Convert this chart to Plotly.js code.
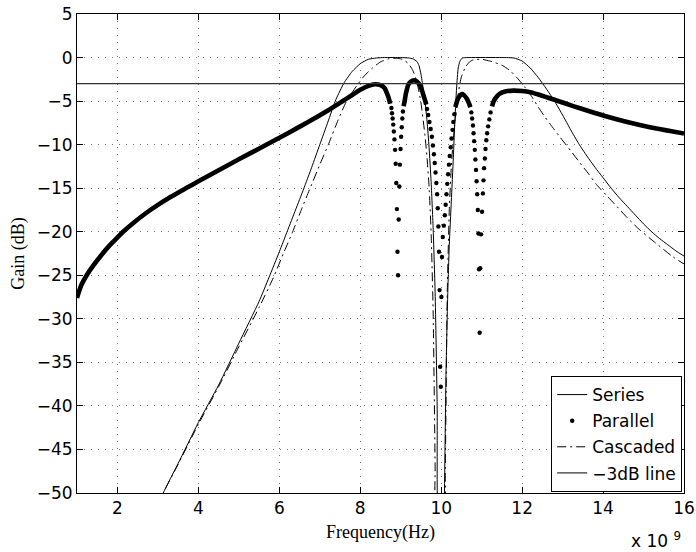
<!DOCTYPE html>
<html>
<head>
<meta charset="utf-8">
<script src="https://cdn.plot.ly/plotly-3.0.1.min.js"></script>
<style>html,body{margin:0;padding:0;background:#fff;}#chart{width:696px;height:552px;}</style>
</head>
<body>
<div id="chart"></div>
<script>
// Frequencies in GHz (axis shows x 10^9 Hz), gains in dB
const seriesFreq = [3.0,3.13,3.5,4.0,4.5,5.0,5.5,5.74,6.0,6.2,6.4,6.6,6.8,7.0,7.2,7.4,7.6,7.8,8.0,8.2,8.4,8.6,9.0,9.2,9.3,9.4,9.45,9.5,9.55,9.6,9.65,9.7,9.75,9.8,9.85,9.9,9.93,
  10.06,10.08,10.12,10.16,10.2,10.25,10.3,10.34,10.38,10.42,10.46,10.5,10.55,10.7,11.5,11.8,12.0,12.2,12.4,12.6,12.8,13.0,13.2,13.4,13.6,13.8,14.0,14.2,14.4,14.6,14.8,15.0,15.2,15.4,15.6,15.8,16.0];
const seriesGain = [-51.5,-50,-46.6,-41.9,-37.6,-32.8,-28.0,-25.3,-22.3,-19.9,-17.5,-15.1,-12.6,-10.0,-7.4,-4.8,-2.9,-1.6,-0.7,-0.2,-0.05,0,0,-0.05,-0.15,-0.45,-0.9,-1.9,-3.4,-5.0,-7.3,-10.3,-14.2,-19.5,-27,-40,-56,
  -58,-50,-36,-27.5,-21.5,-16.5,-11.5,-7,-3.5,-1.2,-0.45,-0.15,-0.03,0,0,-0.05,-0.4,-1.2,-2.3,-3.6,-5.0,-6.6,-8.3,-9.9,-11.3,-12.6,-13.8,-15.0,-16.1,-17.1,-18.1,-19.1,-20.0,-20.8,-21.5,-22.2,-22.8];

const cascadedFreq = [3.0,3.13,3.5,4.0,4.5,5.0,5.5,5.85,6.1,6.33,6.55,6.76,7.0,7.21,7.45,7.66,7.8,7.95,8.1,8.3,8.5,8.7,8.9,9.0,9.1,9.2,9.3,9.4,9.5,9.6,9.65,9.7,9.75,9.8,9.85,9.87,
  10.07,10.1,10.15,10.2,10.25,10.3,10.35,10.4,10.45,10.5,10.6,10.7,10.8,11.0,11.2,11.4,11.53,11.7,11.87,12.05,12.24,12.4,12.56,12.75,12.93,13.2,13.43,13.65,13.84,14.1,14.34,14.6,14.91,15.3,15.73,16.0];
const cascadedGain = [-51.5,-50,-46.7,-42.1,-37.8,-33.2,-28.7,-25.3,-22.5,-20.0,-17.4,-15.0,-12.3,-10.0,-7.2,-5.0,-4.0,-3.0,-2.1,-1.2,-0.5,-0.15,-0.1,-0.15,-0.35,-0.75,-1.5,-2.8,-5.2,-9.0,-11.5,-14.8,-20,-29,-47,-58,
  -58,-48,-27,-17.5,-12.5,-9.3,-7.0,-4.9,-3.3,-2.2,-1.1,-0.5,-0.25,-0.2,-0.4,-0.7,-0.95,-1.5,-2.3,-3.3,-4.5,-5.7,-6.8,-8.0,-9.1,-10.7,-12.1,-13.4,-14.6,-15.9,-17.1,-18.4,-19.8,-21.3,-22.9,-23.7];

// Parallel: densely sampled parts (overlapping dots, drawn as a thick band), null separates the pieces
const parallelBandFreq = [1.0,1.1,1.24,1.4,1.6,1.8,2.0,2.14,2.4,2.7,3.0,3.3,3.71,4.0,4.5,5.0,5.69,6.2,6.7,7.2,7.54,7.8,8.0,8.2,8.36,8.5,8.6,8.65,8.7,8.74,
  8.75,
  9.07,9.10,9.125,9.15,9.19,9.25,9.33,9.40,9.475,9.52,9.56,9.60,9.63,
  9.64,
  10.35,10.40,10.45,10.51,10.56,10.63,10.69,10.72,
  10.73,
  11.255,11.30,11.37,11.45,11.58,11.78,12.0,12.2,12.44,12.85,13.26,13.68,14.09,14.5,14.91,15.32,16.0];
const parallelBandGain = [-27.6,-26.2,-25.0,-23.9,-22.7,-21.6,-20.65,-20.0,-18.96,-17.88,-16.92,-16.05,-14.96,-14.21,-12.93,-11.68,-9.99,-8.72,-7.42,-6.07,-5.08,-4.3,-3.7,-3.25,-3.06,-3.17,-3.5,-4.0,-4.6,-5.3,
  null,
  -5.6,-4.9,-4.2,-3.7,-3.1,-2.75,-2.6,-2.75,-3.2,-3.7,-4.3,-4.9,-5.4,
  null,
  -5.7,-4.9,-4.45,-4.2,-4.3,-4.7,-5.3,-5.7,
  null,
  -5.6,-5.0,-4.5,-4.15,-3.9,-3.8,-3.85,-3.98,-4.3,-4.93,-5.57,-6.19,-6.76,-7.28,-7.74,-8.15,-8.72];

// Parallel: separate dots inside the dips
const parallelDotFreq = [8.77,8.785,8.80,8.815,8.83,8.845,8.86,8.875,8.89,8.905,8.92,8.935,8.95,8.965,8.98,8.995,9.01,9.025,9.04,9.055,
  9.65,9.68,9.71,9.74,9.77,9.795,9.82,9.84,9.86,9.88,9.90,9.915,9.93,9.945,9.96,9.975,
  9.99,10.005,10.02,10.04,10.065,10.09,10.11,10.13,10.15,10.17,10.19,10.21,10.235,10.255,10.28,10.30,10.325,
  10.745,10.765,10.785,10.80,10.815,10.83,10.845,10.86,10.875,10.89,10.905,10.92,10.935,10.95,
  10.965,10.985,11.01,11.03,11.045,11.06,11.08,11.095,11.115,11.135,11.16,11.19,11.22];
const parallelDotGain = [-5.8,-6.4,-7.0,-7.7,-8.5,-9.4,-10.6,-12.2,-14.4,-17.4,-22.3,-25.0,-18.6,-14.8,-12.3,-10.5,-9.1,-8.0,-7.0,-6.2,
  -5.9,-6.6,-7.4,-8.2,-9.1,-10.1,-11.1,-12.1,-13.2,-14.4,-15.7,-17.3,-19.4,-22.3,-26.7,-35.5,
  -37.8,-27.5,-22.9,-20.6,-19.3,-18.1,-16.9,-15.7,-14.5,-13.4,-12.3,-11.3,-10.3,-9.3,-8.3,-7.4,-6.5,
  -6.3,-7.0,-7.8,-8.7,-9.6,-10.6,-11.7,-12.9,-14.2,-15.7,-17.5,-20.2,-24.3,-31.6,
  -24.2,-20.3,-17.7,-15.6,-14.1,-12.7,-11.6,-10.5,-9.5,-8.7,-7.9,-7.1,-6.3];

const thresholdFreq = [1, 16];
const thresholdGain = [-3, -3];

const xTicks = [2, 4, 6, 8, 10, 12, 14, 16];
const yTicks = [-50, -45, -40, -35, -30, -25, -20, -15, -10, -5, 0, 5];

const sansFont = 'DejaVu Sans, Liberation Sans, Arial, sans-serif';
const serifFont = 'Liberation Serif, Times New Roman, serif';

const traces = [
  {x: seriesFreq, y: seriesGain, mode: 'lines', name: 'Series', legendgroup: 'g1',
   line: {color: '#000', width: 1, shape: 'spline', smoothing: 0.5}, hoverinfo: 'skip'},
  {x: parallelBandFreq, y: parallelBandGain, mode: 'lines', showlegend: false, legendgroup: 'g2',
   connectgaps: false, line: {color: '#000', width: 4.6, shape: 'spline', smoothing: 0.8}, hoverinfo: 'skip'},
  {x: parallelDotFreq, y: parallelDotGain, mode: 'markers', name: 'Parallel', legendgroup: 'g2',
   marker: {color: '#000', size: 4.4, line: {width: 0}}, hoverinfo: 'skip'},
  {x: cascadedFreq, y: cascadedGain, mode: 'lines', name: 'Cascaded', legendgroup: 'g3',
   line: {color: '#000', width: 1, dash: '9px,4px,2px,4px', shape: 'spline', smoothing: 0.5}, hoverinfo: 'skip'},
  {x: thresholdFreq, y: thresholdGain, mode: 'lines', name: '\u22123dB line', legendgroup: 'g4',
   line: {color: '#333', width: 1.1}, hoverinfo: 'skip'}
];

const axisCommon = {
  ticks: 'inside', ticklen: 6, tickwidth: 1, tickcolor: '#000',
  showline: true, linecolor: '#000', linewidth: 1, mirror: 'ticks',
  showgrid: true, gridcolor: '#777', gridwidth: 1, griddash: '1px,6px',
  zeroline: false, tickfont: {family: sansFont, size: 17, color: '#000'}
};

const layout = {
  width: 696, height: 552,
  margin: {l: 77, r: 12, t: 14, b: 59, pad: 0},
  paper_bgcolor: '#fff', plot_bgcolor: '#fff',
  font: {family: sansFont, size: 17, color: '#000'},
  showlegend: true,
  xaxis: Object.assign({}, axisCommon, {
    range: [1, 16], tickmode: 'array', tickvals: xTicks,
    title: {text: 'Frequency(Hz)', font: {family: serifFont, size: 18, color: '#000'}, standoff: 7}
  }),
  yaxis: Object.assign({}, axisCommon, {
    range: [-50, 5], tickmode: 'array', tickvals: yTicks,
    title: {text: 'Gain (dB)', font: {family: serifFont, size: 18, color: '#000'}, standoff: 7}
  }),
  legend: {
    x: 0.997, xanchor: 'right', y: 0.002, yanchor: 'bottom',
    bgcolor: '#fff', bordercolor: '#000', borderwidth: 1,
    font: {family: sansFont, size: 17, color: '#000'},
    traceorder: 'grouped', tracegroupgap: 1
  },
  annotations: [{
    xref: 'paper', yref: 'paper', x: 1, y: 0, xanchor: 'right', yanchor: 'top',
    xshift: -1, yshift: -34, showarrow: false, text: 'x 10 <sup>9</sup>',
    font: {family: sansFont, size: 17, color: '#000'}
  }]
};

Plotly.newPlot('chart', traces, layout, {staticPlot: true, displayModeBar: false});
</script>
</body>
</html>
